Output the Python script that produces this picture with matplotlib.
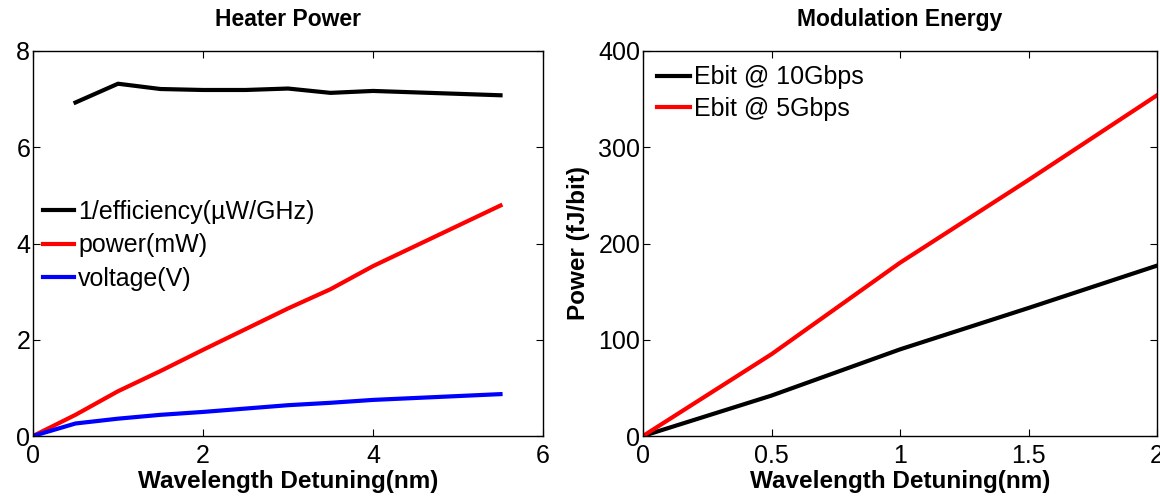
import matplotlib
matplotlib.use("Agg")
import matplotlib.pyplot as plt

plt.rcParams['font.family'] = ['Liberation Sans', 'DejaVu Sans']

# Left panel: Heater Power
detune_left = [0, 0.5, 1, 1.5, 2, 2.5, 3, 3.5, 4, 5.5]
inv_eff_x = [0.5, 1, 1.5, 2, 2.5, 3, 3.5, 4, 5.5]
inv_eff = [6.93, 7.32, 7.21, 7.19, 7.19, 7.22, 7.13, 7.17, 7.08]
power_mw = [0, 0.44, 0.93, 1.35, 1.79, 2.22, 2.65, 3.05, 3.53, 4.79]
voltage_v = [0, 0.26, 0.36, 0.44, 0.50, 0.57, 0.64, 0.69, 0.75, 0.87]

# Right panel: Modulation Energy
detune_right = [0, 0.5, 1, 1.5, 2]
ebit_10g = [0, 42, 90, 133, 177]
ebit_5g = [0, 85, 180, 266, 354]

fig = plt.figure(figsize=(11.6, 4.96), dpi=100)
W, H = 1160, 496
ax1 = fig.add_axes([33 / W, 1 - 436 / H, 510 / W, 385 / H])
ax2 = fig.add_axes([643 / W, 1 - 436 / H, 514 / W, 385 / H])

lw = 3.0
TICK = 18
LEG = 18
TITLE = 16.5
XLAB = 17.5

ax1.plot(inv_eff_x, inv_eff, color='black', lw=lw, label='1/efficiency(\u00b5W/GHz)')
ax1.plot(detune_left, power_mw, color='red', lw=lw, label='power(mW)')
ax1.plot(detune_left, voltage_v, color='blue', lw=lw, label='voltage(V)')
ax1.set_xlim(0, 6)
ax1.set_ylim(0, 8)
ax1.set_xticks([0, 2, 4, 6])
ax1.set_yticks([0, 2, 4, 6, 8])
ax1.set_title('Heater Power', fontsize=TITLE, fontweight='bold', pad=18)
ax1.set_xlabel('Wavelength Detuning(nm)', fontsize=XLAB, fontweight='bold', labelpad=1.5)
ax1.legend(loc='upper left', bbox_to_anchor=(0.0, 0.639), frameon=False, fontsize=LEG,
           handlelength=1.25, handletextpad=0.15, borderaxespad=0.1, borderpad=0.3,
           labelspacing=0.38)

ax2.plot(detune_right, ebit_10g, color='black', lw=lw, label='Ebit @ 10Gbps')
ax2.plot(detune_right, ebit_5g, color='red', lw=lw, label='Ebit @ 5Gbps')
ax2.set_xlim(0, 2)
ax2.set_ylim(0, 400)
ax2.set_xticks([0, 0.5, 1, 1.5, 2])
ax2.set_xticklabels(['0', '0.5', '1', '1.5', '2'])
ax2.set_yticks([0, 100, 200, 300, 400])
ax2.set_title('Modulation Energy', fontsize=TITLE, fontweight='bold', pad=18)
ax2.set_xlabel('Wavelength Detuning(nm)', fontsize=XLAB, fontweight='bold', labelpad=1.5)
ax2.set_ylabel('Power (fJ/bit)', fontsize=XLAB, fontweight='bold', labelpad=6)
ax2.legend(loc='upper left', bbox_to_anchor=(0.006, 0.992), frameon=False, fontsize=LEG,
           handlelength=1.3, handletextpad=0.15, borderaxespad=0.15, borderpad=0.3,
           labelspacing=0.3)

for ax in (ax1, ax2):
    ax.tick_params(direction='in', top=True, right=True, labelsize=TICK, length=5,
                   width=0.8)
    ax.tick_params(axis='x', pad=6)
    ax.tick_params(axis='y', pad=2)
    for s in ax.spines.values():
        s.set_linewidth(1.0)
    for lbl in ax.get_xticklabels() + ax.get_yticklabels():
        lbl.set_clip_on(False)

fig.savefig('out.png', dpi=100)
